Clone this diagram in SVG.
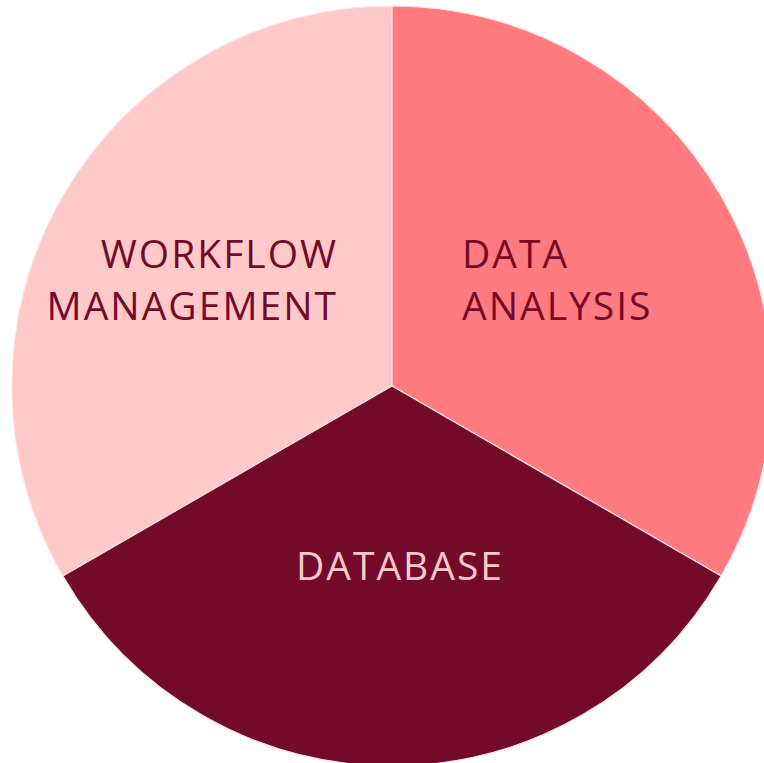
<svg xmlns="http://www.w3.org/2000/svg" width="764" height="763" viewBox="0 0 764 763">
<style>
.lbl{font-family:"Open Sans","Noto Sans",sans-serif;font-size:39px;letter-spacing:2px}
.seg{stroke:#ffe4e4;stroke-width:1.2}
</style>
<rect width="764" height="763" fill="#ffffff"/>
<g id="workflow">
<path class="seg" d="M392,386 L392,6 A380,380 0 0 0 62.9,576 Z" fill="#ffc9c9"/>
<text class="lbl" x="338" y="268" text-anchor="end" fill="#740a2a">WORKFLOW</text>
<text class="lbl" x="338" y="320" text-anchor="end" fill="#740a2a">MANAGEMENT</text>
</g>
<g id="analysis">
<path class="seg" d="M392,386 L392,6 A380,380 0 0 1 721.1,576 Z" fill="#ff7b80"/>
<text class="lbl" x="462" y="268" fill="#740a2a">DATA</text>
<text class="lbl" x="462" y="320" fill="#740a2a">ANALYSIS</text>
</g>
<g id="database">
<path class="seg" d="M392,386 L62.9,576 A380,380 0 0 0 721.1,576 Z" fill="#740a2a"/>
<text class="lbl" x="400" y="580" text-anchor="middle" fill="#ffc9c9">DATABASE</text>
</g>
<g id="connectors"/>
</svg>
